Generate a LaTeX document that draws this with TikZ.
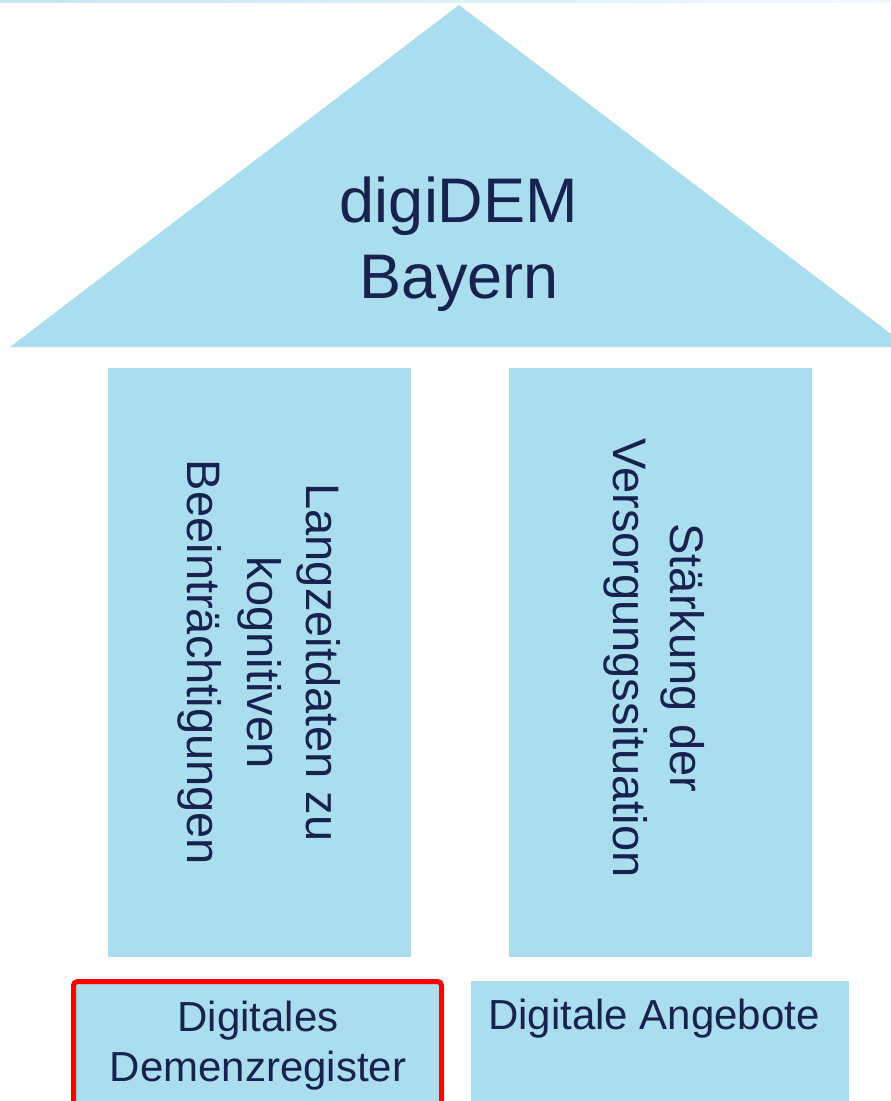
\documentclass[tikz,border=0pt]{standalone}
\usepackage{fontspec}
\setmainfont{Liberation Sans}
\definecolor{roof}{RGB}{170,221,238}
\definecolor{ink}{RGB}{24,34,78}
\begin{document}
\begin{tikzpicture}[x=1pt,y=-1pt,
  box/.style={fill=roof, draw=none, inner sep=0pt, outer sep=0pt, anchor=north west},
  lbl/.style={text=ink, align=center, inner sep=0pt}]
\useasboundingbox (0,0) rectangle (891,1101);
\clip (0,0) rectangle (891,1101);
% thin top line
\shade[left color=roof!70, right color=roof!15] (0,0) rectangle (891,2.5);
% roof
\fill[roof] (10,347) -- (459,5) -- (891,334) -- (891,347) -- cycle;
\node[lbl, font=\fontsize{63}{76}\selectfont] (title) at (459,244) {digiDEM\\Bayern};
% pillars
\node[box, minimum width=303pt, minimum height=589pt] (p1) at (108,368) {};
\node[box, minimum width=303pt, minimum height=589pt] (p2) at (509,368) {};
\node[lbl, rotate=-90, font=\fontsize{47}{59.5}\selectfont] (t1) at (p1.center) {Langzeitdaten zu\\kognitiven\\Beeinträchtigungen};
\node[lbl, rotate=-90, font=\fontsize{47}{57}\selectfont] (t2) at (654,658) {Stärkung der\\Versorgungssituation};
% foundation boxes
\node[box, minimum width=378pt, minimum height=140pt] (b2) at (471,981) {};
\node[box, draw=red, line width=5pt, rounded corners=4pt, outer sep=0pt, minimum width=368pt, minimum height=140pt] (b1) at (73.5,981.5) {};
\node[lbl, font=\fontsize{42}{50}\selectfont] (t3) at (258,1046) {Digitales\\Demenzregister};
\node[lbl, anchor=base west, font=\fontsize{42}{50}\selectfont] (t4) at (488,1029) {Digitale Angebote};
\end{tikzpicture}
\end{document}
